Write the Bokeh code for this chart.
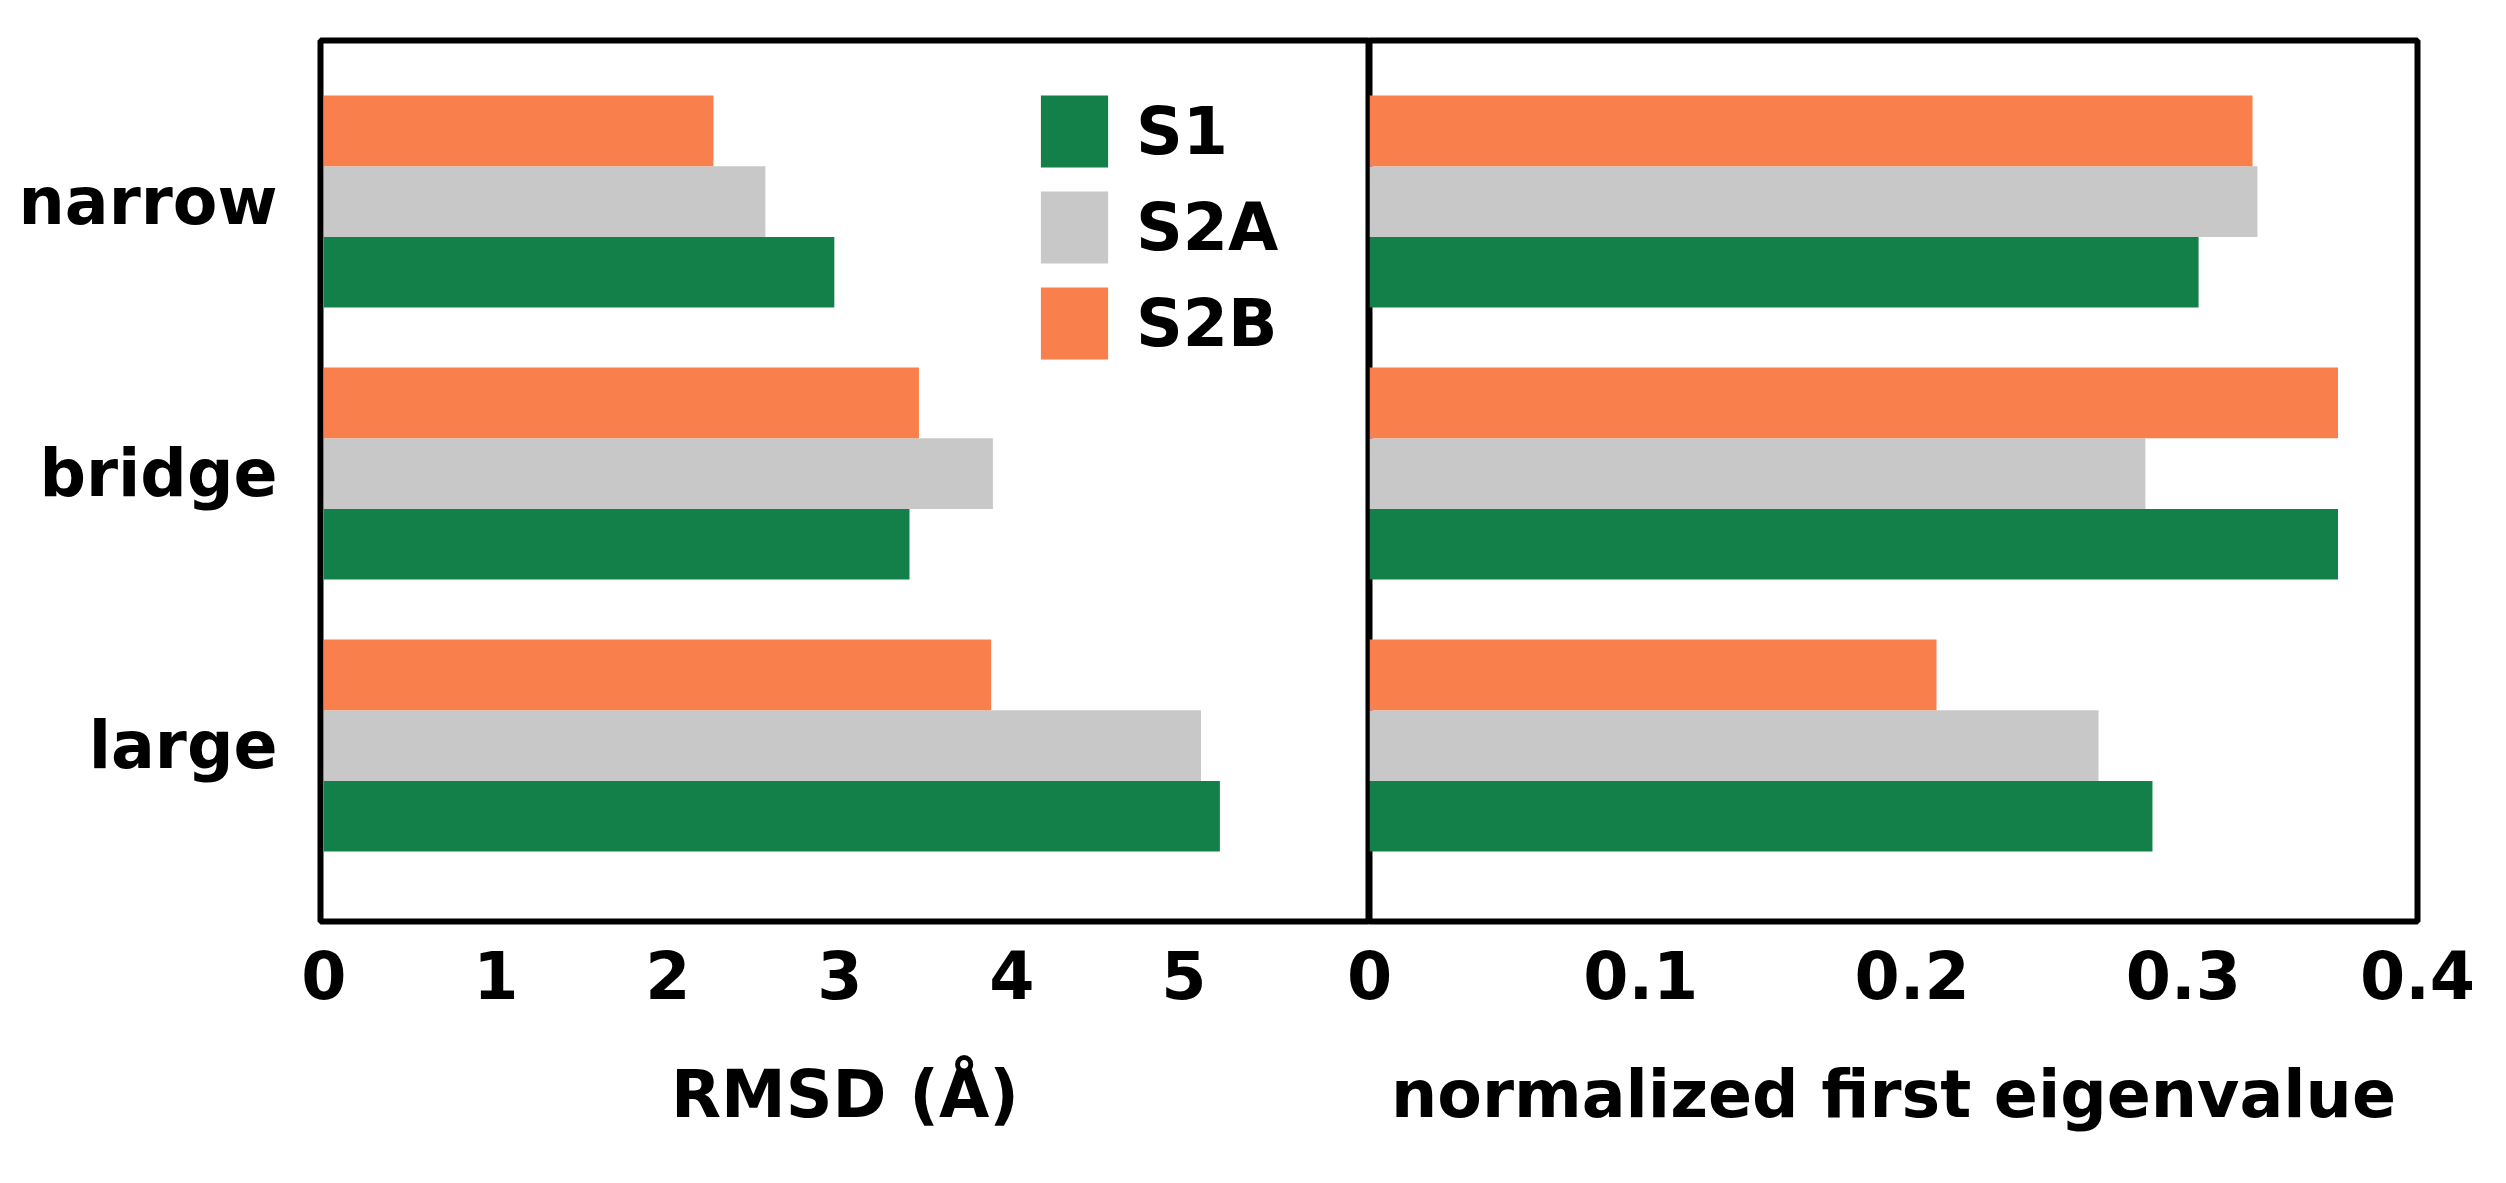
from bokeh.plotting import figure
from bokeh.models import ColumnDataSource, Range1d, FixedTicker, Legend, LegendItem
from bokeh.layouts import row
from bokeh.transform import dodge
from bokeh.embed import file_html
from bokeh.resources import INLINE

# ---------------- data ----------------
categories = ["large", "bridge", "narrow"]          # bottom -> top
series = ["S1", "S2A", "S2B"]

rmsd_S1 = [5.21, 3.405, 2.968]
rmsd_S2A = [5.10, 3.89, 2.567]
rmsd_S2B = [3.88, 3.46, 2.265]

eig_S1 = [0.2886, 0.357, 0.3056]
eig_S2A = [0.2687, 0.286, 0.3273]
eig_S2B = [0.209, 0.357, 0.3255]

rmsd_ticks = [0, 1, 2, 3, 4, 5]
rmsd_tick_labels = ["0", "1", "2", "3", "4", "5"]
eig_ticks = [0, 0.1, 0.2, 0.3, 0.3863]
eig_tick_labels = ["0", "0.1", "0.2", "0.3", "0.4"]

# ---------------- style ----------------
FONT = "DejaVu Sans"
FS = "65px"
colors = {"S1": "#137f49", "S2A": "#c8c8c8", "S2B": "#f9804c"}
offsets = {"S1": -0.26, "S2A": 0.0, "S2B": 0.26}
BAR_H = 0.26

src = ColumnDataSource(dict(
    y=list(range(len(categories))),
    rmsd_S1=rmsd_S1, rmsd_S2A=rmsd_S2A, rmsd_S2B=rmsd_S2B,
    eig_S1=eig_S1, eig_S2A=eig_S2A, eig_S2B=eig_S2B,
))


def style(p, xlabel, ticks, labels):
    p.outline_line_color = "black"
    p.outline_line_width = 6
    p.xgrid.visible = False
    p.ygrid.visible = False
    p.background_fill_color = "white"
    ax = p.xaxis[0]
    ax.ticker = FixedTicker(ticks=ticks)
    ax.major_label_overrides = {t: l for t, l in zip(ticks, labels)}
    ax.axis_label = xlabel
    ax.axis_line_color = None
    ax.major_tick_line_color = None
    ax.minor_tick_line_color = None
    ax.major_label_text_font = FONT
    ax.major_label_text_font_size = FS
    ax.major_label_text_font_style = "bold"
    ax.major_label_text_color = "black"
    ax.major_label_standoff = 22
    ax.axis_label_text_font = FONT
    ax.axis_label_text_font_size = FS
    ax.axis_label_text_font_style = "bold"
    ax.axis_label_text_color = "black"
    ax.axis_label_standoff = 55


y_range = Range1d(-0.647, 2.592)

# ---------------- left panel ----------------
p1 = figure(x_range=Range1d(-0.02, 6.08), y_range=y_range,
            frame_width=1049, frame_height=881,
            min_border_left=320, min_border_right=0,
            min_border_top=40, min_border_bottom=240,
            toolbar_location=None, output_backend="svg")
style(p1, "RMSD (Å)", rmsd_ticks, rmsd_tick_labels)
p1.border_fill_color = "white"

rends = []
for s in series:
    r = p1.hbar(y=dodge("y", offsets[s]), right="rmsd_" + s, left=0, height=BAR_H,
                source=src, fill_color=colors[s], line_color=None)
    rends.append(r)

yax = p1.yaxis[0]
yax.ticker = FixedTicker(ticks=list(range(len(categories))))
yax.major_label_overrides = {i: c for i, c in enumerate(categories)}
yax.axis_line_color = None
yax.major_tick_line_color = None
yax.minor_tick_line_color = None
yax.major_label_text_font = FONT
yax.major_label_text_font_size = FS
yax.major_label_text_font_style = "bold"
yax.major_label_text_color = "black"
yax.major_label_standoff = 37

legend = Legend(items=[LegendItem(label=s, renderers=[r]) for s, r in zip(series, rends)],
                location=(712, 553), margin=0, padding=0,
                glyph_width=84, glyph_height=90, spacing=6,
                label_standoff=20,
                label_text_font=FONT, label_text_font_size=FS,
                label_text_font_style="bold", label_text_color="black",
                border_line_color=None, background_fill_alpha=0)
p1.add_layout(legend)

# ---------------- right panel ----------------
p2 = figure(x_range=Range1d(0, 0.3863), y_range=y_range,
            frame_width=1048, frame_height=881,
            min_border_left=40, min_border_right=80,
            min_border_top=40, min_border_bottom=240,
            toolbar_location=None, output_backend="svg",
            margin=(0, 0, 0, -40))
style(p2, "normalized first eigenvalue", eig_ticks, eig_tick_labels)
p2.border_fill_color = None
p2.yaxis.visible = False

for s in series:
    p2.hbar(y=dodge("y", offsets[s]), right="eig_" + s, left=0, height=BAR_H,
            source=src, fill_color=colors[s], line_color=None)

layout = row(p1, p2, spacing=0)
open("out.html", "w").write(file_html(layout, INLINE))
